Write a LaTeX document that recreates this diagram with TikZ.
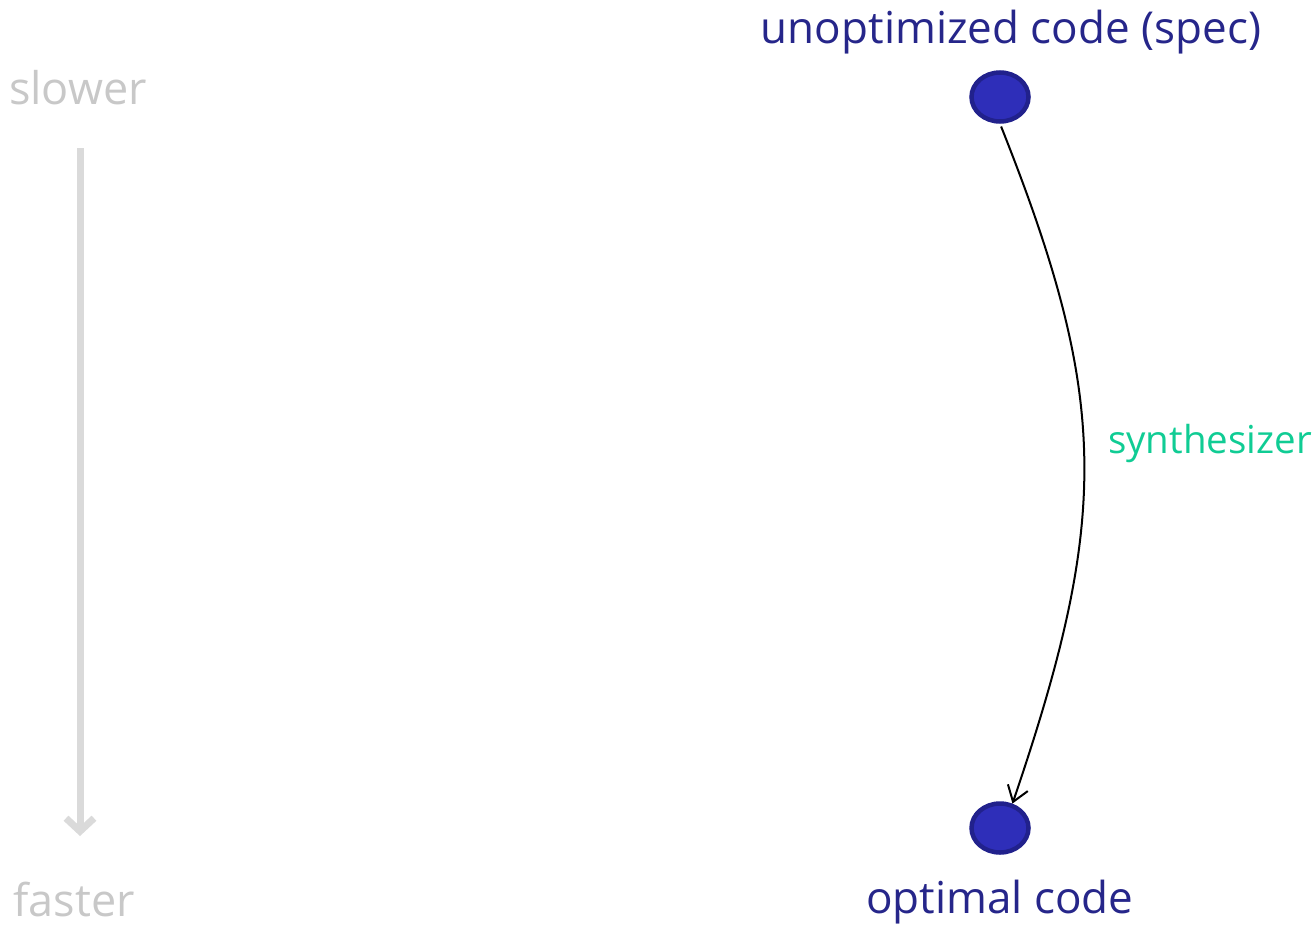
\documentclass[tikz,border=0pt]{standalone}
\usepackage{fontspec}
\setmainfont{Open Sans}
\usetikzlibrary{arrows.meta,shapes.geometric}
\definecolor{navy}{HTML}{26268A}
\definecolor{dotfill}{HTML}{2E2EB9}
\definecolor{dotedge}{HTML}{21218C}
\definecolor{lgray}{HTML}{C8C8C8}
\definecolor{agray}{HTML}{DADADA}
\definecolor{teal}{HTML}{10CC94}
\tikzset{
  dot/.style={ellipse, draw=dotedge, fill=dotfill, line width=4.5pt, minimum width=57pt, minimum height=49pt, inner sep=0pt},
  navytext/.style={text=navy, font=\fontsize{44}{50}\selectfont, anchor=base, inner sep=0pt},
  graytext/.style={text=lgray, font=\fontsize{45}{50}\selectfont, anchor=base, inner sep=0pt},
  tealtext/.style={text=teal, font=\fontsize{38.5}{44}\selectfont, anchor=base west, inner sep=0pt},
  synth/.style={black, line width=2pt, -{Straight Barb[length=15pt,width=21pt,line width=2pt]}},
  speed/.style={agray, line width=7pt, -{Straight Barb[length=13pt,width=28pt]}},
}
\begin{document}
\begin{tikzpicture}[x=1pt,y=-1pt]
\useasboundingbox (0,0) rectangle (1316,926);
\node[dot] (top) at (1000,97) {};
\node[dot] (bot) at (1000,828) {};
\node[navytext] (ltop) at (1011,43) {unoptimized code (spec)};
\node[navytext] (lbot) at (1000,913) {optimal code};
\node[graytext] (slow) at (78,104) {slower};
\node[graytext] (fast) at (74,916) {faster};
\coordinate (sA) at (80,148);
\coordinate (sB) at (80,836);
\draw[speed] (sA) -- (sB);
\draw[synth, shorten <=3pt] (top.south) .. controls (1110,400) and (1110,517) .. (bot.63);
\node[tealtext] (synlab) at (1108,453) {synthesizer};
\end{tikzpicture}
\end{document}
